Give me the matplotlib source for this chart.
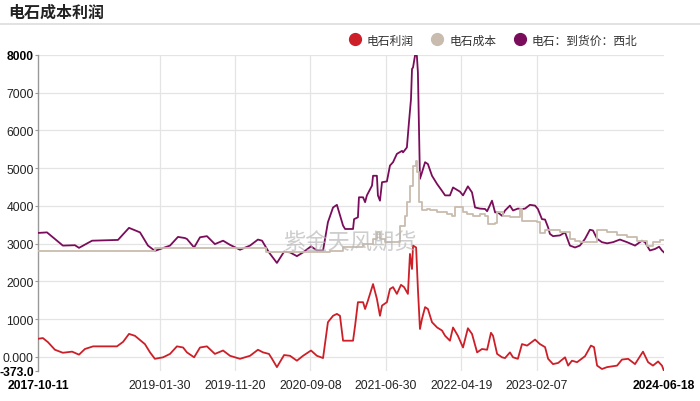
import matplotlib
matplotlib.use('Agg')
import matplotlib.pyplot as plt
from matplotlib.lines import Line2D
import pandas as pd

plt.rcParams['font.family'] = ['Liberation Sans', 'Noto Sans CJK SC', 'DejaVu Sans']

# 电石：到货价：西北
price_dates = ['2017-10-11', '2017-11-15', '2018-01-16', '2018-03-04', '2018-03-20', '2018-05-10',
               '2018-08-19', '2018-10-01', '2018-11-13', '2018-12-14', '2019-01-10', '2019-03-10',
               '2019-04-10', '2019-05-07', '2019-05-15', '2019-06-12', '2019-07-05', '2019-08-01',
               '2019-09-01', '2019-10-03', '2019-10-30', '2019-12-08', '2020-01-16', '2020-02-16',
               '2020-03-03', '2020-03-30', '2020-04-30', '2020-05-28', '2020-06-20', '2020-07-17',
               '2020-08-10', '2020-09-10', '2020-10-03', '2020-10-27', '2020-11-15', '2020-12-05',
               '2020-12-20', '2021-01-13', '2021-01-21', '2021-02-21', '2021-02-25', '2021-03-12',
               '2021-03-16', '2021-04-01', '2021-04-09', '2021-04-16', '2021-05-06', '2021-05-10',
               '2021-05-25', '2021-05-29', '2021-06-06', '2021-06-14', '2021-07-03', '2021-07-15',
               '2021-07-27', '2021-08-11', '2021-08-31', '2021-09-04', '2021-09-19', '2021-09-27',
               '2021-10-05', '2021-10-09', '2021-10-13', '2021-10-21', '2021-10-28', '2021-11-01',
               '2021-11-09', '2021-11-17', '2021-11-29', '2021-12-10', '2021-12-26', '2022-01-15',
               '2022-02-03', '2022-02-15', '2022-03-06', '2022-03-18', '2022-04-14', '2022-04-26',
               '2022-05-15', '2022-05-31', '2022-06-12', '2022-07-01', '2022-07-21', '2022-07-29',
               '2022-08-17', '2022-08-29', '2022-09-09', '2022-09-25', '2022-10-07', '2022-10-26',
               '2022-11-07', '2022-11-26', '2022-12-12', '2022-12-24', '2023-01-12', '2023-02-01',
               '2023-02-12', '2023-02-28', '2023-03-12', '2023-03-24', '2023-03-31', '2023-04-12',
               '2023-05-09', '2023-05-29', '2023-06-17', '2023-07-07', '2023-07-26', '2023-08-15',
               '2023-09-03', '2023-09-15', '2023-10-01', '2023-10-20', '2023-11-09', '2023-12-02',
               '2023-12-29', '2024-01-26', '2024-02-26', '2024-03-24', '2024-04-05', '2024-04-24',
               '2024-05-14', '2024-05-30', '2024-06-10', '2024-06-18']
price_vals = [3285, 3300, 2950, 2960, 2890, 3080,
              3100, 3420, 3300, 2950, 2810, 2950,
              3180, 3150, 3125, 2900, 3170, 3200,
              2990, 3080, 2970, 2840, 2950, 3110,
              3080, 2770, 2490, 2790, 2770, 2670,
              2770, 2930, 2820, 2820, 3570, 3960,
              4030, 3480, 3390, 3390, 3650, 3700,
              4230, 4230, 4100, 4280, 4540, 4800,
              4800, 4280, 4140, 4630, 4650, 5070,
              5160, 5380, 5460, 5420, 5550, 6210,
              6830, 7630, 7670, 8000, 7980, 7540,
              4720, 4890, 5160, 5110, 4800, 4580,
              4400, 4280, 4280, 4490, 4380, 4280,
              4520, 4360, 3960, 3930, 3920, 3860,
              4140, 3830, 3830, 3740, 3880, 4010,
              3880, 3930, 3920, 3930, 4030, 4010,
              3920, 3650, 3640, 3430, 3260, 3200,
              3220, 3300, 2950, 2900, 2950, 3130,
              3370, 3350, 3130, 3040, 3010, 3040,
              3110, 3040, 2950, 3080, 3040, 2820,
              2860, 2920, 2820, 2770]

# 电石成本
cost_dates = ['2017-10-11', '2018-12-20', '2019-01-10', '2020-02-20', '2020-03-20', '2020-10-27',
              '2020-11-23', '2021-01-13', '2021-04-01', '2021-05-10', '2021-05-25', '2021-06-06',
              '2021-06-26', '2021-08-23', '2021-09-12', '2021-09-19', '2021-10-01', '2021-10-13',
              '2021-10-25', '2021-10-28', '2021-11-05', '2021-11-17', '2021-12-06', '2021-12-18',
              '2022-01-15', '2022-02-23', '2022-03-14', '2022-03-26', '2022-04-14', '2022-04-26',
              '2022-05-12', '2022-06-04', '2022-07-01', '2022-07-21', '2022-08-01', '2022-08-29',
              '2022-09-06', '2022-09-29', '2022-10-26', '2022-12-04', '2022-12-12', '2023-01-20',
              '2023-02-09', '2023-02-20', '2023-03-12', '2023-03-31', '2023-05-09', '2023-06-17',
              '2023-07-07', '2023-07-26', '2023-09-25', '2023-10-01', '2023-11-09', '2023-12-18',
              '2024-01-26', '2024-03-05', '2024-04-13', '2024-05-06', '2024-06-02', '2024-06-18']
cost_vals = [2800, 2810, 2890, 2890, 2780, 2780,
             2800, 2900, 2990, 3130, 3300, 3130,
             3050, 3480, 3740, 4100, 4540, 5070,
             5200, 4890, 4100, 3880, 3920, 3880,
             3830, 3790, 3740, 3960, 3960, 3830,
             3790, 3740, 3790, 3740, 3520, 3550,
             3830, 3740, 3700, 3920, 3610, 3610,
             3570, 3280, 3370, 3350, 3300, 3130,
             3080, 3050, 3050, 3370, 3300, 3230,
             3170, 3080, 2950, 3040, 3100, 3110]

# 电石利润
profit_dates = ['2017-10-11', '2017-10-30', '2017-11-19', '2017-12-16', '2018-01-16', '2018-02-21',
                '2018-03-20', '2018-04-12', '2018-05-14', '2018-08-15', '2018-09-08', '2018-10-01',
                '2018-10-24', '2018-12-02', '2018-12-22', '2019-01-10', '2019-02-11', '2019-03-10',
                '2019-04-06', '2019-04-30', '2019-05-15', '2019-06-12', '2019-07-05', '2019-08-01',
                '2019-09-01', '2019-10-03', '2019-10-30', '2019-12-08', '2020-01-16', '2020-02-16',
                '2020-03-07', '2020-03-30', '2020-04-11', '2020-04-30', '2020-05-28', '2020-06-20',
                '2020-07-17', '2020-08-10', '2020-09-10', '2020-10-03', '2020-10-27', '2020-11-15',
                '2020-12-05', '2020-12-20', '2021-01-01', '2021-01-13', '2021-02-21', '2021-03-01',
                '2021-03-12', '2021-04-01', '2021-04-09', '2021-04-20', '2021-05-10', '2021-05-25',
                '2021-06-06', '2021-06-14', '2021-07-03', '2021-07-15', '2021-07-27', '2021-08-11',
                '2021-08-27', '2021-09-08', '2021-09-23', '2021-10-01', '2021-10-09', '2021-10-13',
                '2021-10-25', '2021-11-01', '2021-11-09', '2021-11-17', '2021-11-29', '2021-12-10',
                '2021-12-26', '2022-01-15', '2022-02-03', '2022-02-15', '2022-03-06', '2022-03-18',
                '2022-04-06', '2022-04-26', '2022-05-15', '2022-05-31', '2022-06-20', '2022-07-09',
                '2022-07-29', '2022-08-13', '2022-08-21', '2022-09-06', '2022-09-25', '2022-10-07',
                '2022-10-26', '2022-11-07', '2022-11-26', '2022-12-12', '2023-01-01', '2023-02-01',
                '2023-02-20', '2023-03-12', '2023-03-24', '2023-04-12', '2023-05-02', '2023-05-29',
                '2023-06-10', '2023-06-25', '2023-07-15', '2023-08-15', '2023-09-07', '2023-09-19',
                '2023-10-01', '2023-10-20', '2023-11-09', '2023-12-18', '2024-01-06', '2024-01-30',
                '2024-02-26', '2024-03-28', '2024-04-17', '2024-05-06', '2024-05-26', '2024-06-10',
                '2024-06-18']
profit_vals = [480, 500, 390, 190, 110, 140,
               60, 210, 280, 280, 400, 610,
               560, 340, 120, -50, -10, 80,
               280, 250, 120, -10, 250, 280,
               80, 170, 30, -50, 30, 190,
               120, 80, -50, -270, 50, 30,
               -100, 30, 170, 30, -30, 920,
               1090, 1140, 1090, 430, 430, 830,
               1450, 1450, 1270, 1490, 1930, 1540,
               1090, 1360, 1450, 1800, 1850, 1670,
               1910, 1850, 1670, 2730, 2330, 2950,
               2900, 1800, 740, 1010, 1320, 1270,
               920, 780, 700, 560, 430, 780,
               560, 250, 760, 610, 120, 210,
               190, 640, 560, 80, -10, -30,
               120, -10, -50, 340, 300, 460,
               340, 260, -50, -190, -160, -10,
               -230, -100, -140, 20, 300, 260,
               -230, -320, -270, -230, -70, -50,
               -190, 140, -140, -230, -120, -230,
               -373]

legend_labels = ['电石利润', '电石成本', '电石：到货价：西北']
colors = ['#cc1f28', '#c9bcae', '#7a0d5b']
x_tick_dates = ['2017-10-11', '2019-01-30', '2019-11-20', '2020-09-08', '2021-06-30',
                '2022-04-19', '2023-02-07', '2024-06-18']
y_ticks = [-373, 0, 1000, 2000, 3000, 4000, 5000, 6000, 7000, 8000]
y_tick_labels = ['-373.0', '0.000', '1000', '2000', '3000', '4000', '5000', '6000', '7000', '8000']

fig = plt.figure(figsize=(7, 4.02), dpi=100)
ax = fig.add_axes([38 / 700, 30 / 402, 626 / 700, 316 / 402])

ax.plot(pd.to_datetime(price_dates), price_vals, color=colors[2], lw=1.3, zorder=3)
ax.plot(pd.to_datetime(cost_dates), cost_vals, color=colors[1], lw=1.3, zorder=4,
        drawstyle='steps-post')
ax.plot(pd.to_datetime(profit_dates), profit_vals, color=colors[0], lw=1.3, zorder=5)

ax.set_xlim(pd.Timestamp(x_tick_dates[0]), pd.Timestamp(x_tick_dates[-1]))
ax.set_ylim(-373, 8000)

# grid
for v in y_ticks[1:]:
    ax.axhline(v, color='#e4e4e4', lw=0.9, zorder=1)
for d in x_tick_dates[1:-1]:
    ax.axvline(pd.Timestamp(d), color='#e4e4e4', lw=0.9, zorder=1)

for s in ['top', 'right', 'bottom']:
    ax.spines[s].set_visible(False)
ax.spines['left'].set_color('#999999')
ax.spines['left'].set_linewidth(1.0)

ax.set_yticks(y_ticks)
ax.set_yticklabels(y_tick_labels, fontsize=8.7, color='#222222')
ax.set_xticks(pd.to_datetime(x_tick_dates))
ax.set_xticklabels(x_tick_dates, fontsize=8.7, color='#222222')
ax.tick_params(axis='y', length=2, color='#999999', pad=1)
ax.tick_params(axis='x', length=0, pad=6)
for lbl in [ax.get_yticklabels()[0], ax.get_yticklabels()[-1],
            ax.get_xticklabels()[0], ax.get_xticklabels()[-1]]:
    lbl.set_fontweight('bold')
    lbl.set_color('#000000')

# watermark
fig.text(350 / 700, 1 - 243 / 402, '紫金天风期货',
         fontsize=16, color='#b8b8b8', alpha=0.7, ha='center', va='center',
         family=['Noto Sans CJK SC'], zorder=6)

# title and separator
fig.text(8 / 700, 1 - 13 / 402, '电石成本利润', fontsize=11.5, fontweight='bold',
         family=['Noto Sans CJK SC'], ha='left', va='center', color='#222222')
fig.add_artist(Line2D([0, 1], [1 - 25 / 402, 1 - 25 / 402], color='#dddddd', lw=1.2))

# legend
handles = [Line2D([], [], marker='o', ls='', markersize=8.5, color=c) for c in colors]
leg = fig.legend(handles, legend_labels, loc='center right', bbox_to_anchor=(648 / 700, 1 - 41 / 402),
                 ncol=3, frameon=False, handletextpad=0.0, columnspacing=1.0,
                 prop={'family': ['Noto Sans CJK SC'], 'size': 8.5})
for t in leg.get_texts():
    t.set_color('#333333')

fig.savefig('out.png', dpi=100)
